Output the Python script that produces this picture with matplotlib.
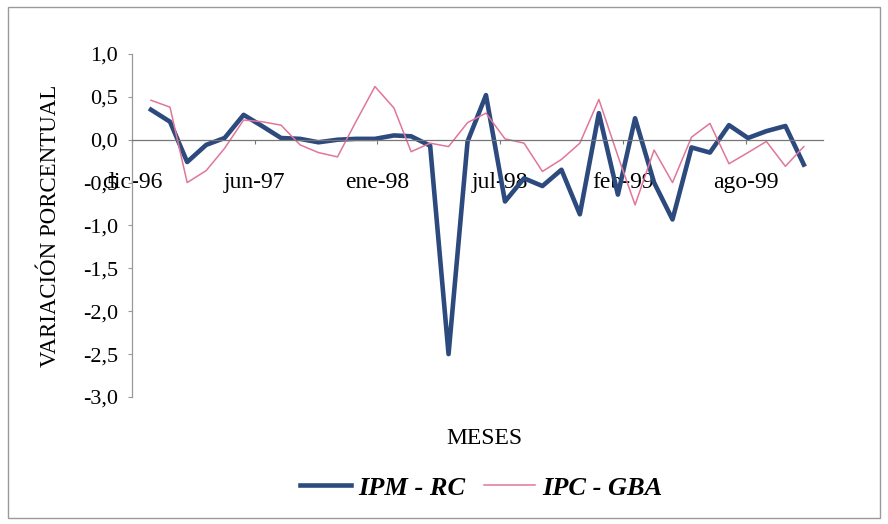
import matplotlib
matplotlib.use("Agg")
import matplotlib.pyplot as plt
import matplotlib.patches as mpatches
import pandas as pd
from matplotlib.ticker import FuncFormatter

# variación mensual, ene-97 a dic-99
ipm_rc = [0.35, 0.21, -0.26, -0.06, 0.02, 0.29, 0.16, 0.02, 0.01, -0.03,
          0.00, 0.01, 0.01, 0.05, 0.04, -0.07, -2.50, -0.02, 0.52, -0.72,
          -0.45, -0.54, -0.35, -0.87, 0.31, -0.64, 0.25, -0.50, -0.93, -0.09,
          -0.15, 0.17, 0.02, 0.10, 0.16, -0.29]
ipc_gba = [0.46, 0.38, -0.50, -0.36, -0.10, 0.23, 0.21, 0.17, -0.06, -0.15,
           -0.20, 0.21, 0.62, 0.37, -0.14, -0.04, -0.08, 0.20, 0.31, 0.01,
           -0.04, -0.37, -0.23, -0.04, 0.47, -0.19, -0.76, -0.12, -0.50, 0.03,
           0.19, -0.28, -0.15, -0.02, -0.31, -0.08]
fechas = pd.date_range("1997-01-01", periods=len(ipm_rc), freq="MS")

meses_es = ["ene", "feb", "mar", "abr", "may", "jun",
            "jul", "ago", "sep", "oct", "nov", "dic"]
# eje de fechas con marcas cada 200 días
marcas = pd.date_range("1996-12-01", periods=6, freq="200D")
etiquetas = ["%s-%s" % (meses_es[d.month - 1], str(d.year)[2:]) for d in marcas]

plt.rcParams["font.family"] = ["Liberation Serif", "DejaVu Serif"]

fig = plt.figure(figsize=(8.88, 5.24), dpi=100)
ax = fig.add_axes([0.1486, 0.2424, 0.778, 0.6546])

azul = "#2c4a7e"
rosa = "#e0769a"
ax.plot(fechas, ipm_rc, color=azul, lw=3.3, label="IPM - RC")
ax.plot(fechas, ipc_gba, color=rosa, lw=1.1, label="IPC - GBA")

ax.set_xlim(pd.Timestamp("1996-12-01"), pd.Timestamp("2000-01-01"))
ax.set_ylim(-3.0, 1.0)
ax.set_yticks([1.0, 0.5, 0.0, -0.5, -1.0, -1.5, -2.0, -2.5, -3.0])
ax.yaxis.set_major_formatter(FuncFormatter(lambda v, p: ("%.1f" % v).replace(".", ",")))
ax.set_xticks(marcas)
ax.set_xticklabels(etiquetas)

for s in ["top", "right"]:
    ax.spines[s].set_visible(False)
ax.spines["bottom"].set_position(("data", 0))
ax.spines["bottom"].set_color("#777777")
ax.spines["left"].set_color("#999999")
ax.spines["bottom"].set_linewidth(0.9)
ax.spines["left"].set_linewidth(0.9)
ax.tick_params(axis="y", direction="out", length=3, color="#999999", labelsize=16, pad=7)
ax.tick_params(axis="x", direction="out", length=3, color="#777777", labelsize=17, pad=20)

ax.set_ylabel("VARIACIÓN PORCENTUAL", fontsize=16.5, labelpad=16)
fig.text(0.546, 0.164, "MESES", fontsize=17, ha="center", va="center")

fig.legend(loc="center", bbox_to_anchor=(0.542, 0.069), ncol=2, frameon=False,
           prop={"size": 19, "weight": "bold", "style": "italic"},
           handlelength=1.95, columnspacing=0.7, handletextpad=0.27)

fig.patches.append(mpatches.Rectangle((0.009, 0.012), 0.982, 0.975, transform=fig.transFigure,
                                      fill=False, edgecolor="#9a9a9a", lw=1.0))

fig.savefig("out.png", dpi=100)
